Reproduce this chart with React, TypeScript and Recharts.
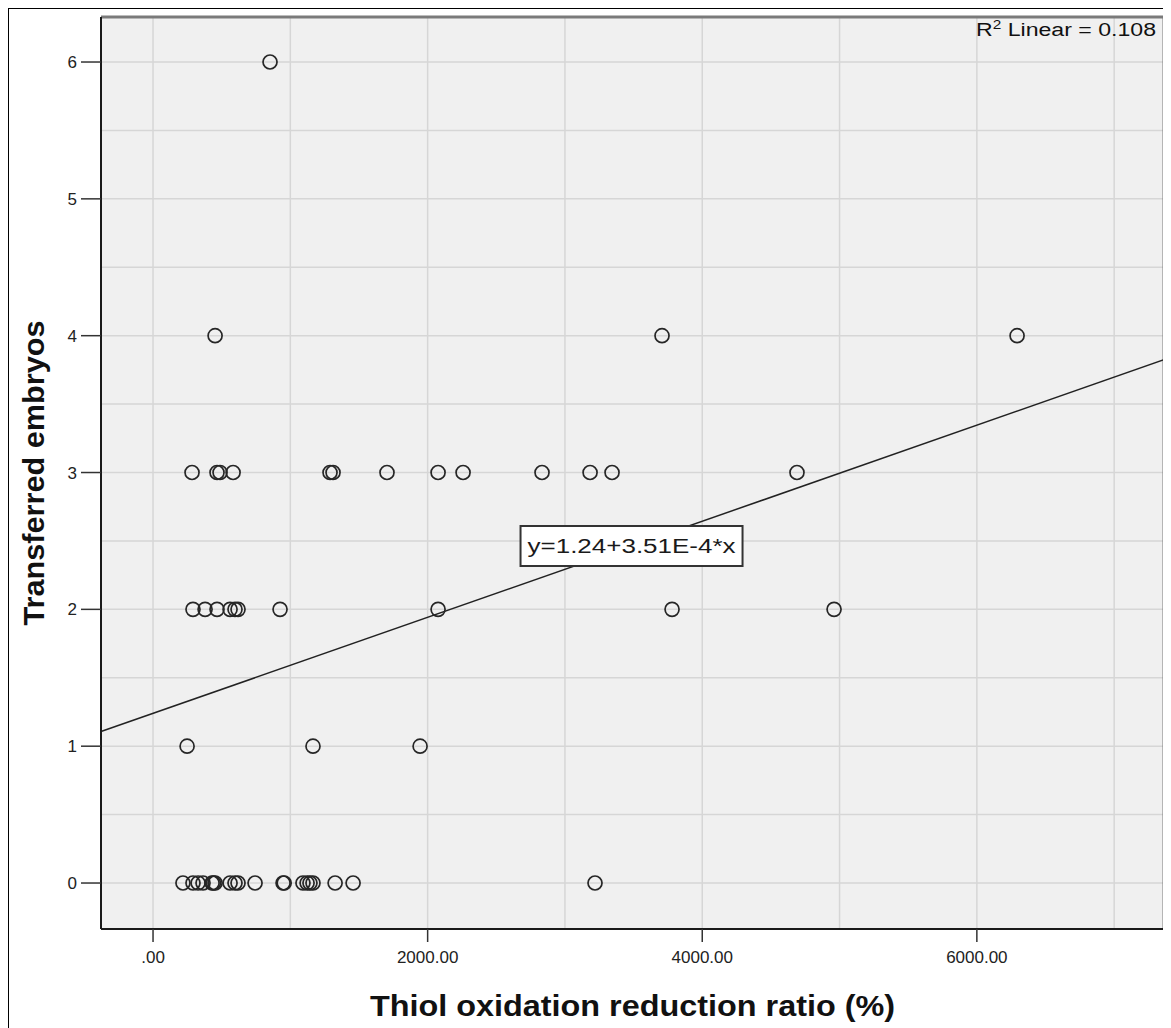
import {
  ScatterChart,
  Scatter,
  XAxis,
  YAxis,
  ReferenceLine,
  ReferenceArea,
  ReferenceDot,
  Label,
} from "recharts"

// values
const oxidationRatio = [
  218, 291, 328, 364, 430, 440, 452, 561, 597, 619, 743, 947, 955, 1092, 1122, 1143, 1165, 1326, 1457, 3219,
  248, 1165, 1945,
  291, 379, 466, 561, 597, 619, 925, 2076, 3780, 4960,
  284, 466, 488, 583, 1289, 1311, 1704, 2076, 2258, 2833, 3183, 3343, 4690,
  452, 3707, 6293,
  852,
]
const embryos = [
  0, 0, 0, 0, 0, 0, 0, 0, 0, 0, 0, 0, 0, 0, 0, 0, 0, 0, 0, 0,
  1, 1, 1,
  2, 2, 2, 2, 2, 2, 2, 2, 2, 2,
  3, 3, 3, 3, 3, 3, 3, 3, 3, 3, 3, 3, 3,
  4, 4, 4,
  6,
]

const xTicks = [0, 2000, 4000, 6000]
const yTicks = [0, 1, 2, 3, 4, 5, 6]
const xGrid = [0, 1000, 2000, 3000, 4000, 5000, 6000, 7000]
const yGrid = [0, 0.5, 1, 1.5, 2, 2.5, 3, 3.5, 4, 4.5, 5, 5.5, 6]

const fit = { intercept: 1.24, slope: 3.51e-4, r2: 0.108 }
const X_MIN = -379
const X_MAX = 7363
const Y_MIN = -0.336
const Y_MAX = 6.329

const points = oxidationRatio.map((x, i) => ({ x, y: embryos[i] }))

const FONT = "'Liberation Sans', Arial, sans-serif"

const fmtX = (v: number) => (v === 0 ? ".00" : v.toFixed(2))

const OpenCircle = (props: any) => (
  <circle cx={props.cx} cy={props.cy} r={7} fill="none" stroke="#262626" strokeWidth={1.7} />
)

const EquationBox = (props: any) => {
  const { cx, cy } = props
  return (
    <g>
      <rect x={cx - 111} y={cy - 20} width={222} height={40} fill="#fff" stroke="#333" strokeWidth={2} />
      <text
        x={cx}
        y={cy + 7}
        textAnchor="middle"
        fontFamily={FONT}
        fontSize={20}
        fill="#1a1a1a"
        textLength={208}
        lengthAdjust="spacingAndGlyphs"
      >
        {`y=${fit.intercept}+3.51E-4*x`}
      </text>
    </g>
  )
}

// R² note in the top right corner of the plot
const R2Note = (props: any) => {
  const { cx, cy } = props
  return (
    <text
      x={cx - 8}
      y={cy + 19}
      textAnchor="end"
      fontFamily={FONT}
      fontSize={18}
      fill="#111"
      textLength={180}
      lengthAdjust="spacingAndGlyphs"
    >
      R
      <tspan dy={-7} fontSize={12}>
        2
      </tspan>
      <tspan dy={7}>{` Linear = ${fit.r2}`}</tspan>
    </text>
  )
}

export default function App() {
  return (
    <div
      style={{
        position: "relative",
        width: 1162,
        height: 1019,
        borderTop: "1px solid #000",
        borderLeft: "1px solid #000",
        fontFamily: FONT,
      }}
    >
      <ScatterChart width={1162} height={1019} margin={{ top: 8, right: 7, bottom: 0, left: 0 }}>
        <ReferenceArea x1={X_MIN} x2={X_MAX} y1={Y_MIN} y2={Y_MAX} fill="#f0f0f0" fillOpacity={1} stroke="none" />
        {xGrid.map((v) => (
          <ReferenceLine key={`gx${v}`} x={v} stroke="#d6d6d6" strokeWidth={1.5} />
        ))}
        {yGrid.map((v) => (
          <ReferenceLine key={`gy${v}`} y={v} stroke="#d6d6d6" strokeWidth={1.5} />
        ))}
        <ReferenceLine y={Y_MAX} stroke="#7a7a7a" strokeWidth={3} />
        <ReferenceLine x={X_MAX} stroke="#7a7a7a" strokeWidth={3} />
        <XAxis
          type="number"
          dataKey="x"
          domain={[X_MIN, X_MAX]}
          ticks={xTicks}
          tickFormatter={fmtX}
          allowDataOverflow
          height={99}
          tickSize={13}
          tickMargin={9}
          axisLine={{ stroke: "#1a1a1a", strokeWidth: 2 }}
          tickLine={{ stroke: "#333", strokeWidth: 1.5 }}
          tick={{ fill: "#222", fontSize: 17, fontFamily: FONT }}
        >
          <Label
            content={(p: any) => {
              const vb = p.viewBox
              return (
                <text
                  x={vb.x + vb.width / 2}
                  y={vb.y + 87}
                  textAnchor="middle"
                  fontFamily={FONT}
                  fontWeight="bold"
                  fontSize={30}
                  fill="#111"
                  textLength={525}
                  lengthAdjust="spacingAndGlyphs"
                >
                  Thiol oxidation reduction ratio (%)
                </text>
              )
            }}
          />
        </XAxis>
        <YAxis
          type="number"
          dataKey="y"
          domain={[Y_MIN, Y_MAX]}
          ticks={yTicks}
          allowDataOverflow
          width={92}
          tickSize={20}
          tickMargin={4}
          axisLine={{ stroke: "#1a1a1a", strokeWidth: 2 }}
          tickLine={{ stroke: "#333", strokeWidth: 1.5 }}
          tick={{ fill: "#222", fontSize: 17, fontFamily: FONT }}
        >
          <Label
            content={(p: any) => {
              const vb = p.viewBox
              const cx = 25
              const cy = vb.y + vb.height / 2
              return (
                <text
                  x={cx}
                  y={cy}
                  transform={`rotate(-90, ${cx}, ${cy})`}
                  textAnchor="middle"
                  dominantBaseline="central"
                  fontFamily={FONT}
                  fontWeight="bold"
                  fontSize={29}
                  fill="#111"
                  textLength={305}
                  lengthAdjust="spacingAndGlyphs"
                >
                  Transferred embryos
                </text>
              )
            }}
          />
        </YAxis>
        <ReferenceLine
          segment={[
            { x: X_MIN, y: fit.intercept + fit.slope * X_MIN },
            { x: X_MAX, y: fit.intercept + fit.slope * X_MAX },
          ]}
          stroke="#222"
          strokeWidth={1.5}
        />
        <Scatter data={points} shape={<OpenCircle />} isAnimationActive={false} />
        <ReferenceDot x={3485} y={2.463} shape={<EquationBox />} />
        <ReferenceDot x={X_MAX} y={Y_MAX} shape={<R2Note />} />
      </ScatterChart>
    </div>
  )
}
